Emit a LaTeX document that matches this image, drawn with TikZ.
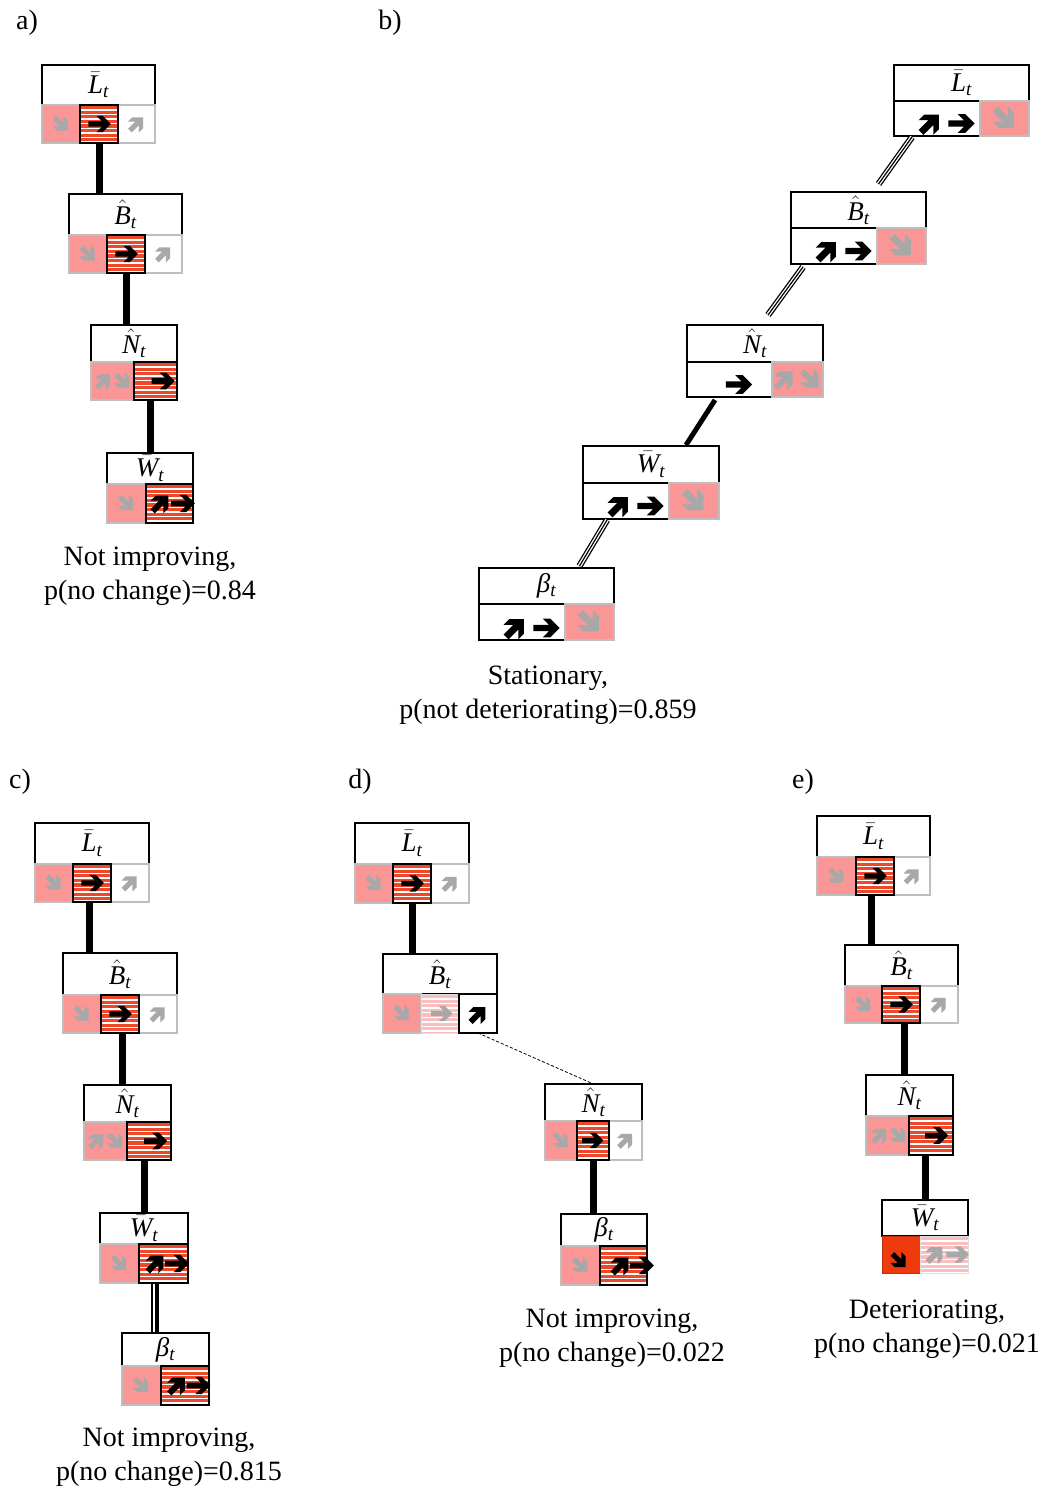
\documentclass[tikz,border=0pt]{standalone}
\usepackage{fix-cm}
\usepackage{fontspec}
\setmainfont{Liberation Serif}
\usetikzlibrary{calc}
\definecolor{pinkc}{RGB}{250,150,150}
\definecolor{stripered}{RGB}{238,72,42}
\definecolor{palered}{RGB}{250,190,190}
\definecolor{solidred}{RGB}{238,58,12}
\definecolor{greyarr}{RGB}{168,168,168}
\definecolor{cellgrey}{RGB}{190,190,190}
\newcommand{\lab}[2]{$#1{\mbox{\itshape #2}}$\textsubscript{\itshape t}}
\newcommand{\lbl}[6]{\node[lblbox, minimum width={(#4-#2)*1pt}, minimum height={(#5-#3)*1pt}] (#1) at ({(#2+#4)/2},{(#3+#5)/2}) {#6};}
\newcommand{\cell}[6]{\node[#1, minimum width={(#5-#3)*1pt}, minimum height={(#6-#4)*1pt}] (#2) at ({(#3+#5)/2},{(#4+#6)/2}) {};}
\newcommand{\arw}[5]{\fill[#3, shift={(#1)}, rotate=#2, scale=#4] (#5,3) -- (1,3) -- (-5,9) -- (2,9) -- (11,0) -- (2,-9) -- (-5,-9) -- (1,-3) -- (#5,-3) -- cycle;}
\newcommand{\hA}[3]{\arw{#1}{0}{#2}{#3}{-14}}
\newcommand{\uA}[3]{\arw{#1}{45}{#2}{#3}{-11}}
\newcommand{\dA}[3]{\arw{#1}{-45}{#2}{#3}{-11}}
\tikzset{
 lblbox/.style={draw=black, line width=1.3pt, fill=white, inner sep=0pt, outer sep=0pt, font=\fontsize{27}{29}\selectfont},
 cellbase/.style={inner sep=0pt, outer sep=0pt},
 pinkcell/.style={cellbase, draw=cellgrey, line width=1.2pt, fill=pinkc},
 whitecell/.style={cellbase, draw=cellgrey, line width=1.2pt, fill=white},
 blackcell/.style={cellbase, draw=black, line width=1.3pt, fill=white},
 stripecell/.style={cellbase, draw=black, line width=1.4pt, fill=white,
   path picture={\foreach \k in {0,...,10}{\fill[stripered] ([yshift={-1pt-\k*4.6pt}]path picture bounding box.north west) rectangle ([yshift={-4.2pt-\k*4.6pt}]path picture bounding box.north east);}}},
 palecell/.style={cellbase, draw=cellgrey!50, line width=1pt, fill=white,
   path picture={\foreach \k in {0,...,10}{\fill[palered] ([yshift={-1pt-\k*4.6pt}]path picture bounding box.north west) rectangle ([yshift={-4.2pt-\k*4.6pt}]path picture bounding box.north east);}}},
 redcell/.style={cellbase, draw=solidred!80!black, line width=1pt, fill=solidred},
 thickconn/.style={draw=black, line width=7pt},
 tripleconn/.style={draw=black, line width=6.4pt, postaction={draw=white, line width=3.8pt}, postaction={draw=black, line width=1.2pt}},
 dashconn/.style={draw=black, line width=0.8pt, dash pattern=on 3pt off 2pt},
 captext/.style={align=center, inner sep=0pt, font=\fontsize{28}{34}\selectfont},
 plabel/.style={inner sep=0pt, font=\fontsize{28}{34}\selectfont}
}
\begin{document}
\begin{tikzpicture}[x=1pt,y=-1pt]
\fill[white] (0,0) rectangle (1049,1490);
\useasboundingbox (0,0) rectangle (1049,1490);

% ---------------- panel labels
\node[plabel] (pa) at (27,23) {a)};
\node[plabel] (pb) at (390,23) {b)};
\node[plabel] (pc) at (20,782) {c)};
\node[plabel] (pd) at (360,782) {d)};
\node[plabel] (pe) at (803,782) {e)};

% ================= panel a
\lbl{aL}{42}{65}{155}{105}{\lab{\bar}{L}}
\cell{pinkcell}{aL1}{42}{105}{80}{143}
\cell{whitecell}{aL3}{118}{105}{155}{143}
\cell{stripecell}{aL2}{80}{105}{118}{143}
\dA{aL1.center}{greyarr}{0.85}
\hA{$(aL2.center)+(2,0)$}{black}{0.9}
\uA{aL3.center}{greyarr}{0.85}

\lbl{aB}{69}{194}{182}{235}{\lab{\hat}{B}}
\cell{pinkcell}{aB1}{69}{235}{107}{273}
\cell{whitecell}{aB3}{145}{235}{182}{273}
\cell{stripecell}{aB2}{107}{235}{145}{273}
\dA{aB1.center}{greyarr}{0.85}
\hA{$(aB2.center)+(2,0)$}{black}{0.9}
\uA{aB3.center}{greyarr}{0.85}

\lbl{aN}{91}{325}{177}{362}{\lab{\hat}{N}}
\cell{pinkcell}{aN1}{91}{362}{134}{400}
\cell{stripecell}{aN2}{134}{362}{177}{400}
\uA{$(aN1.center)+(-9,0)$}{greyarr}{0.85}
\dA{$(aN1.center)+(10,0)$}{greyarr}{0.85}
\hA{$(aN2.center)+(9,0)$}{black}{0.92}

\lbl{aW}{107}{453}{193}{484}{\lab{\bar}{W}}
\cell{pinkcell}{aW1}{107}{484}{146}{523}
\cell{stripecell}{aW2}{146}{484}{193}{523}
\dA{aW1.center}{greyarr}{0.85}
\uA{$(aW2.center)+(-9,0)$}{black}{1.0}
\hA{$(aW2.center)+(15,0)$}{black}{0.95}

\draw[thickconn] (aL2.south) -- (aL2.south |- aB.north);
\draw[thickconn] (aB2.south) -- (aB2.south |- aN.north);
\draw[thickconn] (aW.north |- aN2.south) -- (aW.north);

\node[captext] (acap) at (150,576) {Not improving,\\p(no change)=0.84};

% ================= panel b
\lbl{bL}{894}{65}{1029}{101}{\lab{\bar}{L}}
\cell{blackcell}{bL1}{894}{101}{980}{136}
\cell{pinkcell}{bL2}{980}{101}{1029}{136}
\uA{$(bL1.center)+(-7,5)$}{black}{1.15}
\hA{$(bL1.center)+(26,5)$}{black}{1.05}
\dA{bL2.center}{greyarr}{1.2}

\lbl{bB}{791}{192}{926}{228}{\lab{\hat}{B}}
\cell{blackcell}{bB1}{791}{228}{877}{264}
\cell{pinkcell}{bB2}{877}{228}{926}{264}
\uA{$(bB1.center)+(-7,5)$}{black}{1.15}
\hA{$(bB1.center)+(26,5)$}{black}{1.05}
\dA{bB2.center}{greyarr}{1.2}

\lbl{bN}{687}{325}{823}{362}{\lab{\hat}{N}}
\cell{blackcell}{bN1}{687}{362}{772}{397}
\cell{pinkcell}{bN2}{772}{362}{823}{397}
\hA{$(bN1.center)+(11,5)$}{black}{1.05}
\uA{$(bN2.center)+(-13,0)$}{greyarr}{1.05}
\dA{$(bN2.center)+(13,0)$}{greyarr}{1.05}

\lbl{bW}{583}{446}{719}{483}{\lab{\bar}{W}}
\cell{blackcell}{bW1}{583}{483}{669}{519}
\cell{pinkcell}{bW2}{669}{483}{719}{519}
\uA{$(bW1.center)+(-7,5)$}{black}{1.15}
\hA{$(bW1.center)+(26,5)$}{black}{1.05}
\dA{bW2.center}{greyarr}{1.2}

\lbl{bBeta}{479}{568}{614}{604}{\lab{}{β}}
\cell{blackcell}{bBeta1}{479}{604}{565}{640}
\cell{pinkcell}{bBeta2}{565}{604}{614}{640}
\uA{$(bBeta1.center)+(-7,6)$}{black}{1.15}
\hA{$(bBeta1.center)+(26,6)$}{black}{1.05}
\dA{bBeta2.center}{greyarr}{1.2}

\draw[tripleconn] ([xshift=18pt,yshift=-1pt]bL1.south west) -- ([xshift=20pt,yshift=8pt]bB.north);
\draw[tripleconn] ([xshift=12pt,yshift=-3pt]bB1.south west) -- ([xshift=13pt,yshift=10pt]bN.north);
\draw[draw=black, line width=5pt] ([xshift=28pt,yshift=-3pt]bN1.south west) -- ([xshift=35pt,yshift=1pt]bW.north);
\draw[tripleconn] ([xshift=24pt,yshift=-1pt]bW1.south west) -- ([xshift=33pt,yshift=2pt]bBeta.north);

\node[captext] (bcap) at (548,695) {Stationary,\\p(not deteriorating)=0.859};

% ================= panel c
\lbl{cL}{35}{823}{149}{864}{\lab{\bar}{L}}
\cell{pinkcell}{cL1}{35}{864}{73}{902}
\cell{whitecell}{cL3}{111}{864}{149}{902}
\cell{stripecell}{cL2}{73}{864}{111}{902}
\dA{cL1.center}{greyarr}{0.85}
\hA{$(cL2.center)+(2,0)$}{black}{0.9}
\uA{cL3.center}{greyarr}{0.85}

\lbl{cB}{63}{953}{177}{995}{\lab{\hat}{B}}
\cell{pinkcell}{cB1}{63}{995}{101}{1033}
\cell{whitecell}{cB3}{139}{995}{177}{1033}
\cell{stripecell}{cB2}{101}{995}{139}{1033}
\dA{cB1.center}{greyarr}{0.85}
\hA{$(cB2.center)+(2,0)$}{black}{0.9}
\uA{cB3.center}{greyarr}{0.85}

\lbl{cN}{84}{1085}{171}{1122}{\lab{\hat}{N}}
\cell{pinkcell}{cN1}{84}{1122}{127}{1160}
\cell{stripecell}{cN2}{127}{1122}{171}{1160}
\uA{$(cN1.center)+(-9,0)$}{greyarr}{0.85}
\dA{$(cN1.center)+(10,0)$}{greyarr}{0.85}
\hA{$(cN2.center)+(8,0)$}{black}{0.92}

\lbl{cW}{100}{1213}{188}{1244}{\lab{\bar}{W}}
\cell{pinkcell}{cW1}{100}{1244}{139}{1283}
\cell{stripecell}{cW2}{139}{1244}{188}{1283}
\dA{cW1.center}{greyarr}{0.85}
\uA{$(cW2.center)+(-8,0)$}{black}{1.0}
\hA{$(cW2.center)+(15,0)$}{black}{0.95}

\lbl{cBeta}{122}{1333}{209}{1366}{\lab{}{β}}
\cell{pinkcell}{cBeta1}{122}{1366}{161}{1405}
\cell{stripecell}{cBeta2}{161}{1366}{209}{1405}
\dA{cBeta1.center}{greyarr}{0.85}
\uA{$(cBeta2.center)+(-8,0)$}{black}{1.0}
\hA{$(cBeta2.center)+(15,0)$}{black}{0.95}

\draw[thickconn] ([xshift=-3pt]cL2.south) -- ([xshift=-3pt]cL2.south |- cB.north);
\draw[thickconn] ([xshift=2pt]cB2.south) -- ([xshift=2pt]cB2.south |- cN.north);
\draw[thickconn] (cW.north |- cN2.south) -- (cW.north);
\draw[draw=black, line width=1.8pt] ([xshift=8pt]cW.south |- cW2.south) -- ([xshift=8pt]cW.south |- cBeta.north);
\draw[draw=black, line width=4.5pt] ([xshift=13pt]cW.south |- cW2.south) -- ([xshift=13pt]cW.south |- cBeta.north);

\node[captext] (ccap) at (169,1457) {Not improving,\\p(no change)=0.815};

% ================= panel d
\lbl{dL}{355}{823}{469}{864}{\lab{\bar}{L}}
\cell{pinkcell}{dL1}{355}{864}{393}{903}
\cell{whitecell}{dL3}{431}{864}{469}{903}
\cell{stripecell}{dL2}{393}{864}{431}{903}
\dA{dL1.center}{greyarr}{0.85}
\hA{$(dL2.center)+(2,0)$}{black}{0.9}
\uA{dL3.center}{greyarr}{0.85}

\lbl{dB}{383}{954}{497}{994}{\lab{\hat}{B}}
\cell{pinkcell}{dB1}{383}{994}{421}{1033}
\cell{palecell}{dB2}{421}{994}{459}{1033}
\cell{blackcell}{dB3}{459}{994}{497}{1033}
\dA{dB1.center}{greyarr}{0.85}
\hA{$(dB2.center)+(3,0)$}{greyarr}{0.85}
\uA{$(dB3.center)+(0,1)$}{black}{0.95}

\lbl{dN}{545}{1084}{642}{1121}{\lab{\hat}{N}}
\cell{pinkcell}{dN1}{545}{1121}{577}{1160}
\cell{whitecell}{dN3}{609}{1121}{642}{1160}
\cell{stripecell}{dN2}{577}{1121}{609}{1160}
\dA{dN1.center}{greyarr}{0.85}
\hA{$(dN2.center)+(1,0)$}{black}{0.85}
\uA{dN3.center}{greyarr}{0.85}

\lbl{dBeta}{561}{1214}{647}{1246}{\lab{}{β}}
\cell{pinkcell}{dBeta1}{561}{1246}{600}{1285}
\cell{stripecell}{dBeta2}{600}{1246}{647}{1285}
\dA{dBeta1.center}{greyarr}{0.85}
\uA{$(dBeta2.center)+(-3,0)$}{black}{1.0}
\hA{$(dBeta2.center)+(20,0)$}{black}{0.95}

\draw[thickconn] (dL2.south) -- (dL2.south |- dB.north);
\draw[dashconn] (dB3.south) -- (dN.north);
\draw[thickconn] (dN2.south) -- (dN2.south |- dBeta.north);

\node[captext] (dcap) at (612,1338) {Not improving,\\p(no change)=0.022};

% ================= panel e
\lbl{eL}{817}{816}{930}{857}{\lab{\bar}{L}}
\cell{pinkcell}{eL1}{817}{857}{856}{895}
\cell{whitecell}{eL3}{894}{857}{930}{895}
\cell{stripecell}{eL2}{856}{857}{894}{895}
\dA{eL1.center}{greyarr}{0.85}
\hA{$(eL2.center)+(2,0)$}{black}{0.9}
\uA{eL3.center}{greyarr}{0.85}

\lbl{eB}{845}{945}{958}{986}{\lab{\hat}{B}}
\cell{pinkcell}{eB1}{845}{986}{882}{1023}
\cell{whitecell}{eB3}{920}{986}{958}{1023}
\cell{stripecell}{eB2}{882}{986}{920}{1023}
\dA{eB1.center}{greyarr}{0.85}
\hA{$(eB2.center)+(2,0)$}{black}{0.9}
\uA{eB3.center}{greyarr}{0.85}

\lbl{eN}{866}{1075}{953}{1116}{\lab{\hat}{N}}
\cell{pinkcell}{eN1}{866}{1116}{909}{1155}
\cell{stripecell}{eN2}{909}{1116}{953}{1155}
\uA{$(eN1.center)+(-8,0)$}{greyarr}{0.85}
\dA{$(eN1.center)+(11,0)$}{greyarr}{0.85}
\hA{$(eN2.center)+(7,0)$}{black}{0.92}

\lbl{eW}{882}{1200}{968}{1236}{\lab{\bar}{W}}
\cell{redcell}{eW1}{882}{1236}{920}{1273}
\cell{palecell}{eW2}{920}{1236}{968}{1273}
\dA{$(eW1.center)+(-2,6)$}{black}{0.85}
\uA{$(eW2.center)+(-9,0)$}{greyarr}{0.95}
\hA{$(eW2.center)+(15,0)$}{greyarr}{0.9}

\draw[thickconn] ([xshift=-4pt]eL2.south) -- ([xshift=-4pt]eL2.south |- eB.north);
\draw[thickconn] ([xshift=3pt]eB2.south) -- ([xshift=3pt]eB2.south |- eN.north);
\draw[thickconn] (eW.north |- eN2.south) -- (eW.north);

\node[captext] (ecap) at (927,1329) {Deteriorating,\\p(no change)=0.021};
\end{tikzpicture}
\end{document}
